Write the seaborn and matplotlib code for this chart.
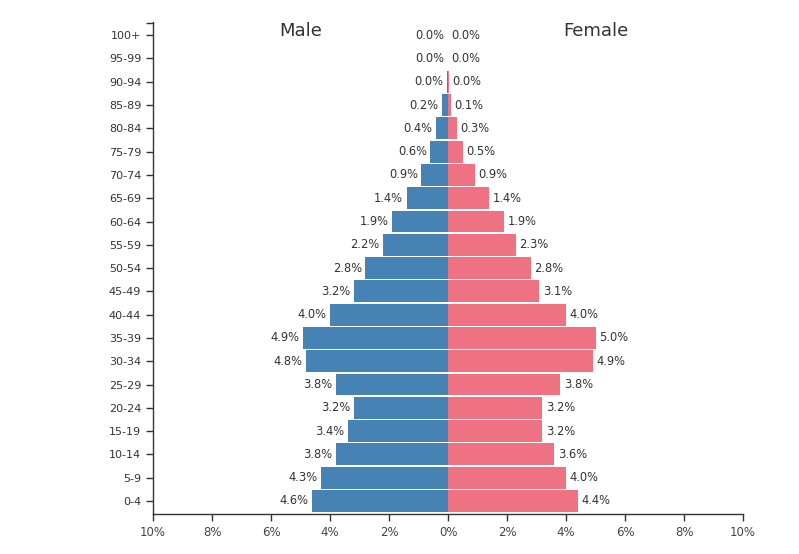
import matplotlib
matplotlib.use("Agg")
import matplotlib.pyplot as plt
import seaborn as sns
import pandas as pd
import numpy as np

ages = ["0-4", "5-9", "10-14", "15-19", "20-24", "25-29", "30-34", "35-39", "40-44",
        "45-49", "50-54", "55-59", "60-64", "65-69", "70-74", "75-79", "80-84",
        "85-89", "90-94", "95-99", "100+"]
male = [4.6, 4.3, 3.8, 3.4, 3.2, 3.8, 4.8, 4.9, 4.0, 3.2, 2.8, 2.2, 1.9, 1.4, 0.9,
        0.6, 0.4, 0.2, 0.04, 0.005, 0.0]
female = [4.4, 4.0, 3.6, 3.2, 3.2, 3.8, 4.9, 5.0, 4.0, 3.1, 2.8, 2.3, 1.9, 1.4, 0.9,
          0.5, 0.3, 0.1, 0.03, 0.005, 0.0]
xticks = [-10, -8, -6, -4, -2, 0, 2, 4, 6, 8, 10]

male_color = "#4682b4"
female_color = "#ef7282"
text_color = "#333333"

df = pd.DataFrame({
    "age": ages + ages,
    "value": [-v for v in male] + female,
    "sex": ["Male"] * len(ages) + ["Female"] * len(ages),
})
order = ages[::-1]

sns.set_style("white")
fig = plt.figure(figsize=(7.99, 5.54), dpi=100)
ax = fig.add_axes([0.1915, 0.0722, 0.7385, 0.8878])

sns.barplot(data=df, y="age", x="value", hue="sex", order=order, orient="h",
            dodge=False, palette={"Male": male_color, "Female": female_color},
            saturation=1, width=0.94, linewidth=0, ax=ax, legend=False)

# value labels
pos = {a: i for i, a in enumerate(order)}
for a, m, f in zip(ages, male, female):
    y = pos[a]
    ax.text(-m - 0.12, y, f"{m:.1f}%", ha="right", va="center", fontsize=8.3, color=text_color)
    ax.text(f + 0.12, y, f"{f:.1f}%", ha="left", va="center", fontsize=8.3, color=text_color)

ax.set_xlim(-10, 10)
ax.set_ylim(20.56, -0.56)
ax.set_xticks(xticks)
ax.set_xticklabels([f"{abs(t)}%" for t in xticks], fontsize=8.5, color="#444444")
ax.set_yticks(range(len(order)))
ax.set_yticklabels(order, fontsize=8, color=text_color)
ax.set_xlabel("")
ax.set_ylabel("")
for s in ["top", "right"]:
    ax.spines[s].set_visible(False)
for s in ["left", "bottom"]:
    ax.spines[s].set_color("#333333")
    ax.spines[s].set_linewidth(1.0)
ax.tick_params(axis="both", which="major", length=5, width=1, color="#333333",
               direction="out", bottom=True, left=True)
# outer tick at top of y axis
ax.set_yticks([-0.54], minor=True)
ax.tick_params(axis="y", which="minor", length=5, width=1, color="#333333",
               direction="out", left=True)

ax.text(-5, -0.2, "Male", ha="center", va="center", fontsize=13, color=text_color)
ax.text(5, -0.2, "Female", ha="center", va="center", fontsize=13, color=text_color)

fig.savefig("out.png", dpi=100)
